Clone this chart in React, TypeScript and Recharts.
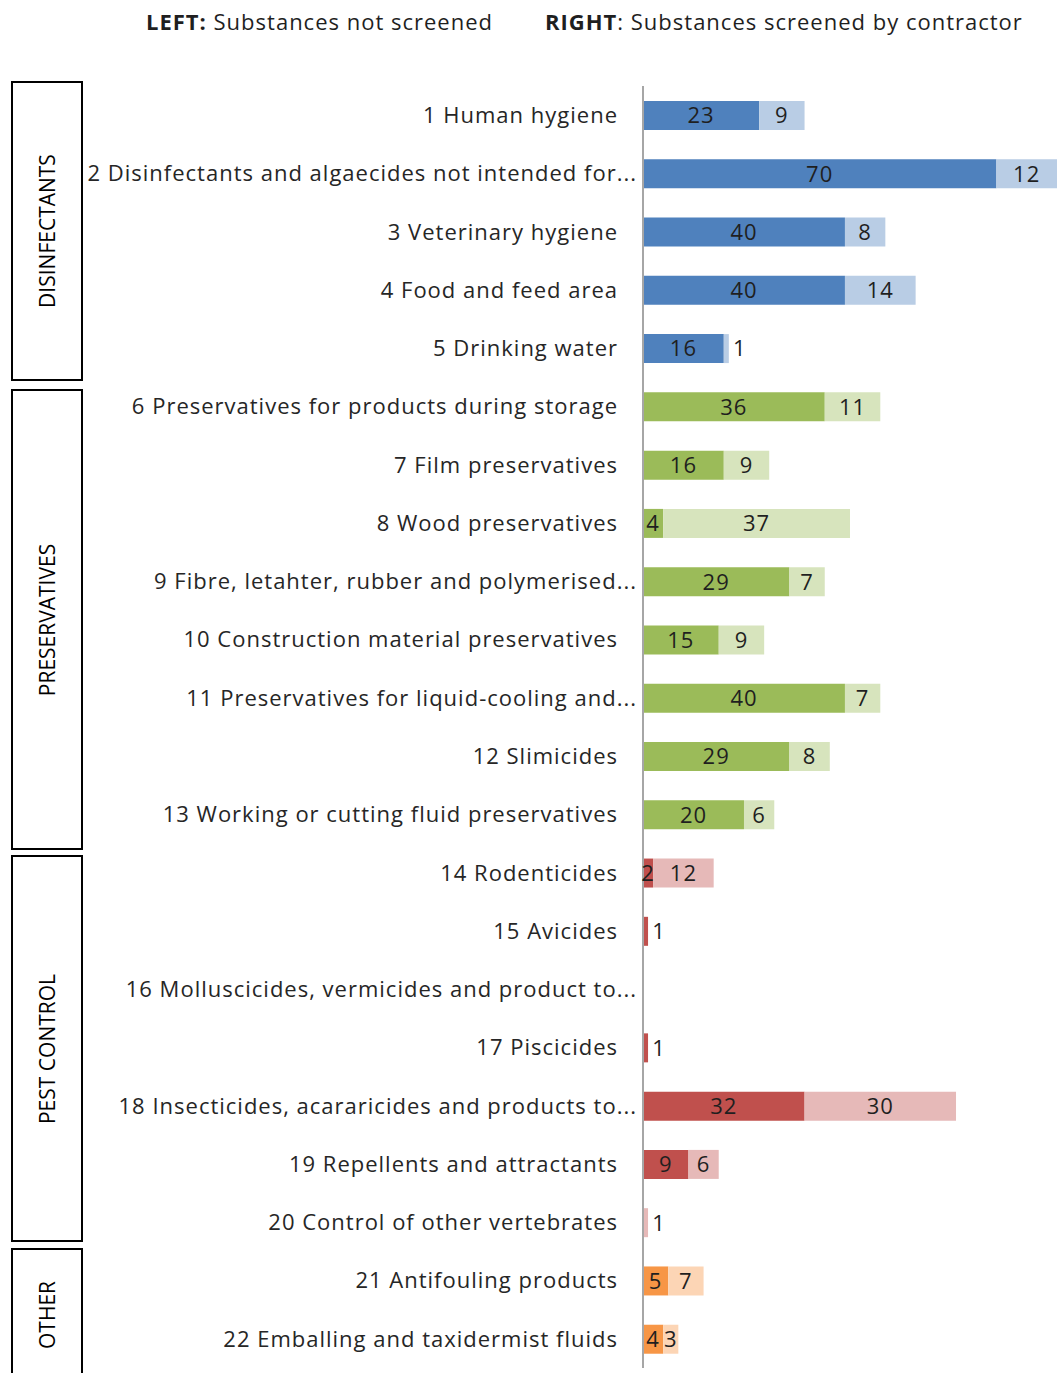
import { Bar, BarChart, Cell, LabelList, XAxis, YAxis } from 'recharts';

const categories = [
	'1 Human hygiene',
	'2 Disinfectants and algaecides not intended for...',
	'3 Veterinary hygiene',
	'4 Food and feed area',
	'5 Drinking water',
	'6 Preservatives for products during storage',
	'7 Film preservatives',
	'8 Wood preservatives',
	'9 Fibre, letahter, rubber and polymerised...',
	'10 Construction material preservatives',
	'11 Preservatives for liquid-cooling and...',
	'12 Slimicides',
	'13 Working or cutting fluid preservatives',
	'14 Rodenticides',
	'15 Avicides',
	'16 Molluscicides, vermicides and product to...',
	'17 Piscicides',
	'18 Insecticides, acararicides and products to...',
	'19 Repellents and attractants',
	'20 Control of other vertebrates',
	'21 Antifouling products',
	'22 Emballing and taxidermist fluids',
];

const notScreened = [23, 70, 40, 40, 16, 36, 16, 4, 29, 15, 40, 29, 20, 2, 1, 0, 1, 32, 9, 0, 5, 4];
const screened = [9, 12, 8, 14, 1, 11, 9, 37, 7, 9, 7, 8, 6, 12, 0, 0, 0, 30, 6, 1, 7, 3];

// group index per category: 0 disinfectants, 1 preservatives, 2 pest control, 3 other
const groupOf = [0, 0, 0, 0, 0, 1, 1, 1, 1, 1, 1, 1, 1, 2, 2, 2, 2, 2, 2, 2, 3, 3];

const DARK = ['#4F81BD', '#9BBB59', '#C0504D', '#F79646'];
const LIGHT = ['#B9CDE5', '#D7E4BD', '#E6B9B8', '#FCD5B5'];

const groups = [
	{ name: 'DISINFECTANTS', top: 81, bottom: 380 },
	{ name: 'PRESERVATIVES', top: 389, bottom: 849 },
	{ name: 'PEST CONTROL', top: 855, bottom: 1241 },
	{ name: 'OTHER', top: 1248, bottom: 1380 },
];

const data = categories.map((name, i) => ({
	name,
	left: notScreened[i],
	right: screened[i],
	group: groupOf[i],
}));

const FONT = '"Open Sans", sans-serif';

const ValueLabel = (props: any) => {
	const { x, y, width, height, value } = props;
	if (!value) return null;
	const narrow = width < 8;
	return (
		<text
			x={narrow ? x + width + 11 : x + width / 2}
			y={y + height / 2 + 2}
			textAnchor="middle"
			dominantBaseline="middle"
			fontSize={22}
			letterSpacing={1}
			fontFamily={FONT}
			fill="#1f1f1f"
		>
			{value}
		</text>
	);
};

const CategoryTick = (props: any) => {
	const { x, y, payload } = props;
	const label: string = payload.value;
	const shift = label.endsWith('...') ? 19 : 0;
	return (
		<text
			x={x - 17 + shift}
			y={y + 2}
			textAnchor="end"
			dominantBaseline="middle"
			fontSize={22}
			letterSpacing={1}
			fontFamily={FONT}
			fill="#262626"
		>
			{label}
		</text>
	);
};

const titleStyle = {
	position: 'absolute' as const,
	top: 6,
	fontFamily: FONT,
	fontSize: 22,
	letterSpacing: 1,
	color: '#1f1f1f',
	whiteSpace: 'nowrap' as const,
};

export default function App() {
	return (
		<div style={{ position: 'absolute', left: 0, top: 0, width: 1057, height: 1373, background: '#fff', overflow: 'hidden' }}>
			<div style={{ ...titleStyle, left: 146 }}>
				<b>LEFT:</b> Substances not screened
			</div>
			<div style={{ ...titleStyle, left: 545 }}>
				<b>RIGHT</b>: Substances screened by contractor
			</div>
			{groups.map((g) => (
				<div
					key={g.name}
					style={{
						position: 'absolute',
						left: 11,
						top: g.top,
						width: 68,
						height: g.bottom - g.top - 3,
						border: '2px solid #000',
						display: 'flex',
						alignItems: 'center',
						justifyContent: 'center',
					}}
				>
					<span
						style={{
							transform: 'rotate(-90deg)',
							whiteSpace: 'nowrap',
							fontFamily: FONT,
							fontSize: 21,
							color: '#000',
						}}
					>
						{g.name}
					</span>
				</div>
			))}
			<div style={{ position: 'absolute', left: 0, top: 0 }}>
				<BarChart
					width={1057}
					height={1373}
					data={data}
					layout="vertical"
					margin={{ top: 86, right: 0, bottom: 5, left: 0 }}
					barCategoryGap={0}
					barSize={29}
				>
					<XAxis type="number" domain={[0, 82]} hide />
					<YAxis
						type="category"
						dataKey="name"
						width={643}
						axisLine={{ stroke: '#A6A6A6', strokeWidth: 2 }}
						tickLine={false}
						tick={<CategoryTick />}
						interval={0}
					/>
					<Bar dataKey="left" stackId="a" isAnimationActive={false}>
						{data.map((d, i) => (
							<Cell key={`l-${i}`} fill={DARK[d.group]} />
						))}
						<LabelList dataKey="left" content={<ValueLabel />} />
					</Bar>
					<Bar dataKey="right" stackId="a" isAnimationActive={false}>
						{data.map((d, i) => (
							<Cell key={`r-${i}`} fill={LIGHT[d.group]} />
						))}
						<LabelList dataKey="right" content={<ValueLabel />} />
					</Bar>
				</BarChart>
			</div>
		</div>
	);
}
